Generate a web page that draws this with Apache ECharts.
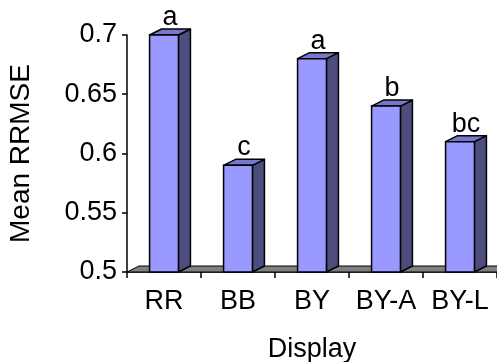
<!DOCTYPE html>
<html>
<head>
<meta charset="utf-8">
<script src="https://cdn.jsdelivr.net/npm/echarts@6/dist/echarts.min.js"></script>
<style>
html,body{margin:0;padding:0;background:#fff;}
#chart{width:497px;height:362px;}
</style>
</head>
<body>
<div id="chart"></div>
<script>
const categories = ['RR', 'BB', 'BY', 'BY-A', 'BY-L'];
const meanRRMSE = [0.70, 0.59, 0.68, 0.64, 0.61];
const groupLetters = ['a', 'c', 'a', 'b', 'bc'];

const FONT = "'Liberation Sans', Arial, sans-serif";
const DX = 12, DY = 6;
const YMIN = 0.5;

const chart = echarts.init(document.getElementById('chart'), null, {renderer: 'canvas'});

function renderFloor(params, api) {
  const cs = params.coordSys;
  const yb = cs.y + cs.height;
  return {
    type: 'polygon',
    shape: {points: [[cs.x, yb], [cs.x + DX, yb - DY], [cs.x + cs.width + DX, yb - DY], [cs.x + cs.width, yb]]},
    style: {fill: '#808080', stroke: '#000', lineWidth: 1}
  };
}

function renderBar(params, api) {
  const idx = api.value(0);
  const v = api.value(1);
  const top = api.coord([idx, v]);
  const base = api.coord([idx, YMIN]);
  const bw = api.size([1, 0])[0];
  const w = bw * 0.39;
  const l = top[0] - w / 2, r = top[0] + w / 2;
  const t = top[1], b = base[1];
  const letter = groupLetters[params.dataIndex];
  return {
    type: 'group',
    children: [
      {type: 'polygon', shape: {points: [[r, t], [r + DX, t - DY], [r + DX, b - DY], [r, b]]},
       style: {fill: '#4D4D80', stroke: '#000', lineWidth: 1.5, lineJoin: 'round'}},
      {type: 'polygon', shape: {points: [[l, t], [l + DX, t - DY], [r + DX, t - DY], [r, t]]},
       style: {fill: '#7777CC', stroke: '#000', lineWidth: 1.5, lineJoin: 'round'}},
      {type: 'rect', shape: {x: l, y: t, width: w, height: b - t},
       style: {fill: '#9999FF', stroke: '#000', lineWidth: 1.5}},
      {type: 'text', x: top[0] + DX / 2, y: t - DY + 2,
       style: {text: letter, fill: '#000', font: '27px ' + FONT, textAlign: 'center', textVerticalAlign: 'bottom'}}
    ]
  };
}

const option = {
  animation: false,
  backgroundColor: '#fff',
  grid: {left: 127, right: 0, top: 35, bottom: 90, containLabel: false, outerBoundsMode: 'none'},
  xAxis: {
    type: 'category',
    data: categories,
    name: 'Display',
    nameLocation: 'middle',
    nameGap: 64,
    nameTextStyle: {color: '#000', fontSize: 27, fontFamily: FONT},
    axisLine: {lineStyle: {color: '#000', width: 1.5}},
    axisTick: {show: true, length: 6, lineStyle: {color: '#000', width: 1.5}},
    axisLabel: {color: '#000', fontSize: 27, fontFamily: FONT, margin: 16, interval: 0, hideOverlap: false}
  },
  yAxis: {
    type: 'value',
    min: 0.5, max: 0.7, interval: 0.05,
    name: 'Mean RRMSE',
    nameLocation: 'middle',
    nameGap: 92,
    nameTextStyle: {color: '#000', fontSize: 28, fontFamily: FONT},
    axisLine: {show: true, lineStyle: {color: '#000', width: 1.5}},
    axisTick: {show: true, length: 5, lineStyle: {color: '#000', width: 1.5}},
    splitLine: {show: false},
    axisLabel: {color: '#000', fontSize: 27, fontFamily: FONT, margin: 10,
      formatter: function (v) { return String(Math.round(v * 100) / 100); }}
  },
  series: [
    {type: 'custom', renderItem: renderFloor, data: [[0, YMIN]], silent: true, z: 1},
    {type: 'custom', renderItem: renderBar, data: meanRRMSE.map((v, i) => [i, v]), z: 2}
  ]
};
chart.setOption(option);
</script>
</body>
</html>
